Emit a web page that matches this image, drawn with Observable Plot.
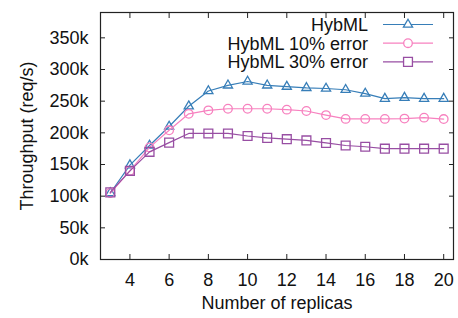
<!DOCTYPE html>
<html>
<head>
<meta charset="utf-8">
<script src="https://cdn.jsdelivr.net/npm/d3@7"></script>
<script src="https://cdn.jsdelivr.net/npm/@observablehq/plot@0.6"></script>
<style>
  html, body { margin: 0; padding: 0; background: #fff; }
  #chart svg { display: block; }
</style>
</head>
<body>
<div id="chart"></div>
<script>
const replicas = [3,4,5,6,7,8,9,10,11,12,13,14,15,16,17,18,19,20];
const hybml     = [105000,149000,180000,210000,242000,266000,275000,281000,275000,273000,271000,270000,268000,262000,254000,255500,254000,254000];
const hybml10   = [105000,140000,177000,204000,230000,235500,238000,238000,238000,236600,234500,228000,222000,222000,222000,222500,224000,221800];
const hybml30   = [106000,140000,170000,184500,199000,199000,199000,195000,192000,190000,188000,184000,180000,178000,175000,175000,175000,175000];
const seriesNames = ["HybML", "HybML 10% error", "HybML 30% error"];
const seriesColors = ["#377eb8", "#f781bf", "#984ea3"];
const seriesSymbols = ["triangle", "circle", "square"];
const seriesR = [3.4, 4.3, 5.0];
const xTicks = [4,6,8,10,12,14,16,18,20];
const yTicks = [0,50000,100000,150000,200000,250000,300000,350000];

const allValues = [hybml, hybml10, hybml30];
const data = [];
allValues.forEach((vals, si) => vals.forEach((v, i) => data.push({series: seriesNames[si], x: replicas[i], y: v})));

const marks = [Plot.frame({stroke: "#222", strokeWidth: 1.2})];
seriesNames.forEach((name, si) => {
  const d = data.filter(r => r.series === name);
  marks.push(Plot.line(d, {x: "x", y: "y", stroke: seriesColors[si], strokeWidth: 1.2}));
  marks.push(Plot.dot(d, {x: "x", y: "y", stroke: seriesColors[si], symbol: seriesSymbols[si], r: seriesR[si], strokeWidth: 1.3, fill: "none"}));
});
marks.push(
  Plot.axisX({anchor: "bottom", ticks: xTicks, tickSize: -5, text: null, label: null, stroke: "#222"}),
  Plot.axisX({anchor: "top", ticks: xTicks, tickSize: -5, text: null, label: null, stroke: "#222"}),
  Plot.axisX({anchor: "bottom", ticks: xTicks, tickSize: 0, tickPadding: 14, label: "Number of replicas", labelAnchor: "center", labelArrow: "none", labelOffset: 49, fill: "#111"}),
  Plot.axisY({anchor: "left", ticks: yTicks, tickSize: -5, text: null, label: null, stroke: "#222"}),
  Plot.axisY({anchor: "right", ticks: yTicks, tickSize: -5, text: null, label: null, stroke: "#222"}),
  Plot.axisY({anchor: "left", ticks: yTicks, tickSize: 0, tickPadding: 12, tickFormat: d => (d/1000) + "k", label: "Throughput (req/s)", labelAnchor: "center", labelArrow: "none", labelOffset: 80, fill: "#111"})
);

const chart = Plot.plot({
  width: 458,
  height: 318,
  marginLeft: 100,
  marginRight: 5,
  marginTop: 12,
  marginBottom: 59,
  style: {fontFamily: "'Liberation Sans', Arial, sans-serif", fontSize: "18px", background: "#fff", color: "#111"},
  x: {domain: [2.5, 20.5]},
  y: {domain: [0, 390000]},
  marks
});
document.getElementById("chart").appendChild(chart);

// legend inside the plot area, top-right
const svg = d3.select(chart);
const leg = svg.append("g").attr("font-family", "'Liberation Sans', Arial, sans-serif").attr("font-size", 18);
seriesNames.forEach((name, si) => {
  const yy = 24.5 + si * 18.7;
  const g = leg.append("g").attr("transform", `translate(0,${yy})`);
  g.append("text").attr("x", 368).attr("y", 0).attr("dy", "0.35em").attr("text-anchor", "end").attr("fill", "#111").text(name);
  g.append("line").attr("x1", 383).attr("x2", 433).attr("y1", 0).attr("y2", 0).attr("stroke", seriesColors[si]).attr("stroke-width", 1.2);
  const sym = {triangle: d3.symbolTriangle, circle: d3.symbolCircle, square: d3.symbolSquare}[seriesSymbols[si]];
  g.append("path").attr("transform", "translate(408,0)").attr("d", d3.symbol(sym, Math.PI * seriesR[si] ** 2)()).attr("fill", "#fff").attr("stroke", seriesColors[si]).attr("stroke-width", 1.3);
});
</script>
</body>
</html>
